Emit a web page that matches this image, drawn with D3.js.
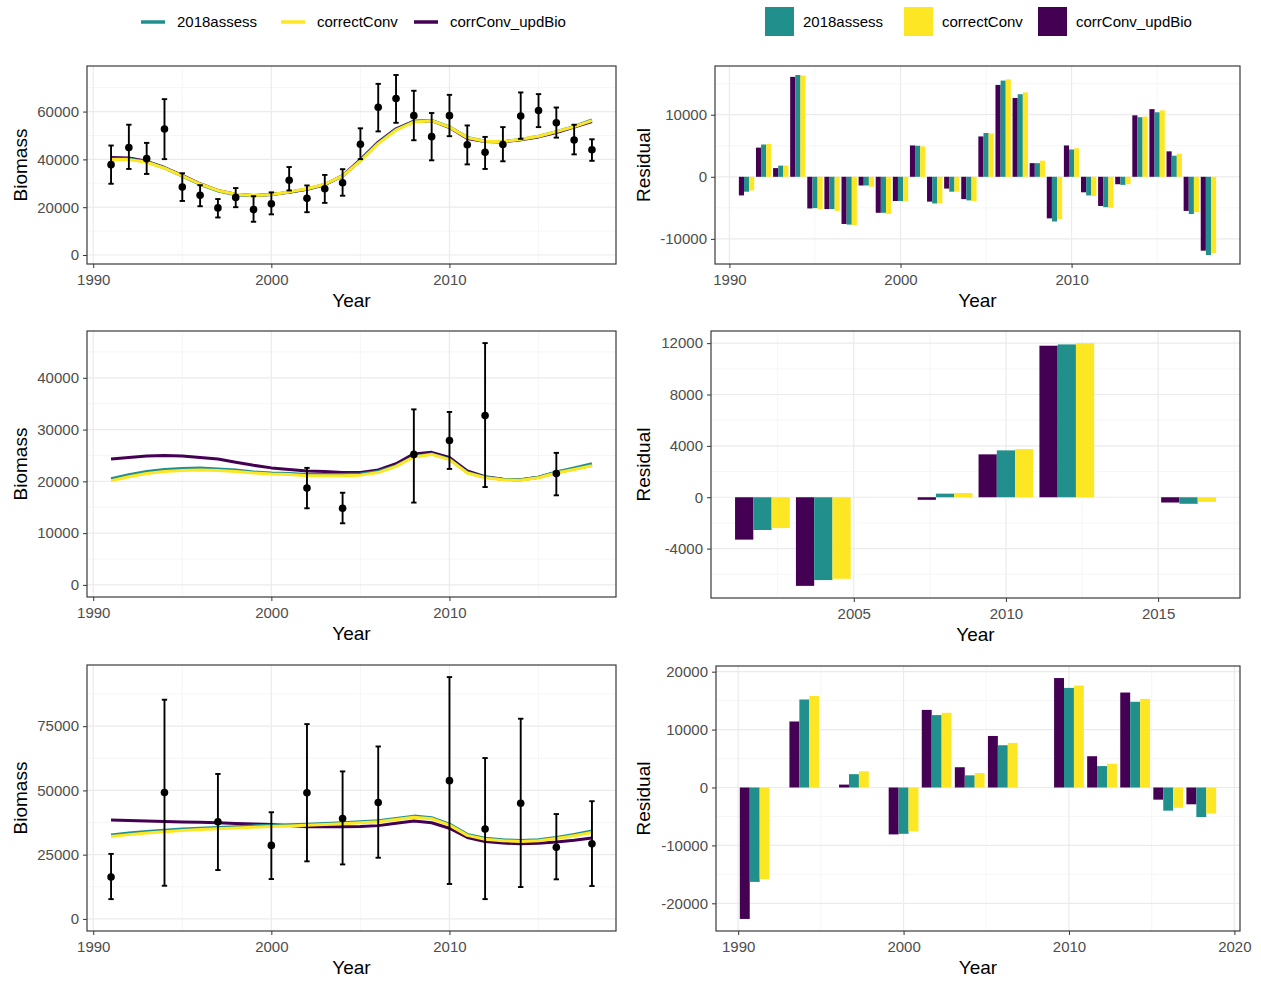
<!DOCTYPE html>
<html>
<head>
<meta charset="utf-8">
<script src="https://cdn.jsdelivr.net/npm/d3@7"></script>
<style>
  body { margin: 0; background: #fff; }
  svg text { font-family: "Liberation Sans", Arial, sans-serif; }
</style>
</head>
<body>
<svg id="chart" width="1261" height="981"></svg>
<script>
// ---- series ----
const seriesNames = ["2018assess", "correctConv", "corrConv_updBio"];
const seriesColors = ["#21908C", "#FDE725", "#440154"];
const barOrder = ["corrConv_updBio", "2018assess", "correctConv"];
const lineOrder = ["corrConv_updBio", "2018assess", "correctConv"];

// ---- survey A: annual index, 1991-2018 ----
const yearsA = [1991, 1992, 1993, 1994, 1995, 1996, 1997, 1998, 1999, 2000, 2001, 2002, 2003, 2004,
                2005, 2006, 2007, 2008, 2009, 2010, 2011, 2012, 2013, 2014, 2015, 2016, 2017, 2018];
const obsA = [37800, 45000, 40300, 52700, 28400, 25000, 19700, 24100, 19000, 21400, 31300, 23700, 27700, 30200,
              46300, 61800, 65500, 58300, 49500, 58300, 46100, 43000, 46200, 58100, 60400, 55300, 48100, 44000];
const loA = [29800, 36000, 33900, 40100, 22600, 20400, 15700, 20000, 13900, 17000, 27000, 17900, 21800, 24800,
             40100, 51700, 55300, 48000, 39600, 49700, 37900, 36000, 39200, 48600, 53500, 49100, 42100, 39400];
const hiA = [45800, 54500, 46900, 65200, 34200, 29200, 23400, 28000, 24600, 26200, 36800, 29100, 33500, 35900,
             53000, 71600, 75300, 68700, 59400, 67000, 54200, 49400, 53500, 68000, 67300, 61700, 54500, 48400];
const estA_2018assess = [40200, 40200, 39000, 36400, 33000, 29500, 26800, 25200, 24800, 25300, 26300, 27600, 29500, 33000,
                         39500, 46800, 52500, 55800, 56300, 53600, 49200, 47600, 47400, 48300, 49700, 51600, 53800, 56500];
const estA_correctConv = [40000, 39900, 38800, 36300, 33100, 29700, 27000, 25400, 24900, 25300, 26400, 27700, 29600, 33100,
                          39400, 46600, 52200, 55600, 56200, 53500, 49100, 47600, 47400, 48400, 49700, 51600, 53700, 56200];
const estA_corrConv_updBio = [40800, 40600, 39200, 36600, 33300, 29800, 27000, 25400, 24900, 25300, 26200, 27500, 29400, 33200,
                              39900, 47200, 52800, 56000, 56200, 53300, 48700, 47500, 47300, 48200, 49400, 51200, 53500, 55800];
const residA_2018assess = [-2400, 5200, 1800, 16400, -5050, -5200, -7700, -1400, -5800, -3900, 5000, -4300, -2400, -3800,
                           7050, 15500, 13300, 2200, -7200, 4400, -3000, -4900, -1300, 9600, 10400, 3400, -6000, -12600];
const residA_correctConv = [-2200, 5300, 1800, 16300, -5200, -5500, -7800, -1600, -6000, -3950, 4900, -4300, -2400, -3900,
                            7000, 15700, 13600, 2600, -6800, 4600, -3100, -5000, -1200, 9700, 10700, 3700, -5700, -12300];
const residA_corrConv_updBio = [-3000, 4700, 1400, 16100, -5100, -5200, -7600, -1400, -5800, -3900, 5050, -4000, -1900, -3600,
                                6500, 14800, 12700, 2200, -6700, 5050, -2500, -4700, -1200, 9900, 10900, 4100, -5500, -11900];

// ---- survey B: biennial index ----
const yearsB = yearsA;
const estB_2018assess = [20500, 21300, 21900, 22300, 22500, 22600, 22400, 22200, 21800, 21600, 21500, 21300, 21300, 21300,
                         21400, 21900, 23000, 24800, 25300, 24300, 21700, 20800, 20400, 20300, 20800, 21800, 22600, 23400];
const estB_correctConv = [20100, 20900, 21500, 21900, 22100, 22200, 22100, 21900, 21600, 21400, 21300, 21100, 21100, 21100,
                          21200, 21700, 22900, 24700, 25200, 24200, 21600, 20700, 20300, 20200, 20700, 21600, 22300, 23000];
const estB_corrConv_updBio = [24300, 24600, 24900, 25000, 24900, 24600, 24300, 23700, 23100, 22600, 22300, 22000, 21900, 21700,
                              21700, 22200, 23400, 25300, 25600, 24600, 22000, 20900, 20400, 20300, 20800, 21700, 22400, 23100];
const obsYearsB = [2002, 2004, 2008, 2010, 2012, 2016];
const obsB = [18700, 14800, 25200, 27900, 32700, 21500];
const loB = [14800, 11900, 15900, 22400, 18900, 17300];
const hiB = [22600, 17800, 33900, 33400, 46700, 25500];
const residB_2018assess = [-2550, -6450, 280, 3650, 11900, -510];
const residB_correctConv = [-2400, -6350, 330, 3750, 12000, -360];
const residB_corrConv_updBio = [-3300, -6900, -200, 3340, 11800, -410];

// ---- survey C: irregular index ----
const yearsC = yearsA;
const estC_2018assess = [32700, 33400, 34000, 34500, 35000, 35300, 35600, 35900, 36200, 36400, 36600, 36800, 37100, 37400,
                         37800, 38200, 39100, 40000, 39400, 36900, 32900, 31400, 30800, 30500, 30800, 31700, 32900, 34200];
const estC_correctConv = [32100, 32800, 33400, 33900, 34400, 34800, 35100, 35400, 35700, 36000, 36200, 36400, 36700, 37000,
                          37400, 37800, 38700, 39600, 39000, 36500, 32500, 31000, 30400, 30100, 30400, 31300, 32400, 33600];
const estC_corrConv_updBio = [38500, 38300, 38100, 37900, 37700, 37600, 37400, 37100, 36900, 36700, 36300, 35900, 35900, 35900,
                              36000, 36300, 37200, 38100, 37400, 35300, 31700, 30100, 29500, 29200, 29400, 29900, 30600, 31500];
const obsYearsC = [1991, 1994, 1997, 2000, 2002, 2004, 2006, 2010, 2012, 2014, 2016, 2018];
const obsC = [16300, 49200, 37800, 28600, 49100, 39100, 45300, 53800, 35000, 45000, 27900, 29200];
const loC = [7700, 12900, 19000, 15500, 22400, 21200, 23800, 13600, 7700, 12400, 15400, 12800];
const hiC = [25300, 85300, 56400, 41500, 75800, 57400, 67100, 94100, 62600, 77900, 40800, 45800];
const residC_2018assess = [-16300, 15200, 2300, -8000, 12500, 2100, 7300, 17200, 3700, 14800, -4000, -5100];
const residC_correctConv = [-15800, 15800, 2800, -7600, 12900, 2500, 7700, 17600, 4100, 15300, -3500, -4500];
const residC_corrConv_updBio = [-22700, 11400, 500, -8100, 13400, 3500, 8900, 18900, 5400, 16400, -2100, -2900];

// ---- axis breaks ----
const fitXTicks = [1990, 2000, 2010];
const fitXMinor = [1995, 2005, 2015];
const yTicksA = [0, 20000, 40000, 60000];
const yMinorA = [10000, 30000, 50000, 70000];
const yTicksB = [0, 10000, 20000, 30000, 40000];
const yMinorB = [5000, 15000, 25000, 35000, 45000];
const yTicksC = [0, 25000, 50000, 75000];
const yMinorC = [12500, 37500, 62500, 87500];
const resXTicksA = [1990, 2000, 2010];
const resXMinorA = [1995, 2005, 2015];
const resYTicksA = [-10000, 0, 10000];
const resYMinorA = [-5000, 5000, 15000];
const resXTicksB = [2005, 2010, 2015];
const resXMinorB = [2002.5, 2007.5, 2012.5, 2017.5];
const resYTicksB = [-4000, 0, 4000, 8000, 12000];
const resYMinorB = [-6000, -2000, 2000, 6000, 10000];
const resXTicksC = [1990, 2000, 2010, 2020];
const resXMinorC = [1995, 2005, 2015];
const resYTicksC = [-20000, -10000, 0, 10000, 20000];
const resYMinorC = [-15000, -5000, 5000, 15000];

const color = d3.scaleOrdinal().domain(seriesNames).range(seriesColors);
const svg = d3.select("#chart");

function frame(box, x, y, xTicks, xMinor, yTicks, yMinor, yTitle) {
  const g = svg.append("g");
  const [lo, hi] = y.domain();
  const [xl, xh] = x.domain();
  g.append("rect").attr("x", box.x0).attr("y", box.y0)
    .attr("width", box.x1 - box.x0).attr("height", box.y1 - box.y0).attr("fill", "#fff");
  // minor grid
  g.selectAll(".gy2").data(yMinor.filter(v => v > lo && v < hi)).join("line")
    .attr("x1", box.x0).attr("x2", box.x1).attr("y1", d => y(d)).attr("y2", d => y(d))
    .attr("stroke", "#F2F2F2").attr("stroke-width", 0.7);
  g.selectAll(".gx2").data(xMinor.filter(v => v > xl && v < xh)).join("line")
    .attr("y1", box.y0).attr("y2", box.y1).attr("x1", d => x(d)).attr("x2", d => x(d))
    .attr("stroke", "#F2F2F2").attr("stroke-width", 0.7);
  // major grid
  g.selectAll(".gy").data(yTicks).join("line")
    .attr("x1", box.x0).attr("x2", box.x1).attr("y1", d => y(d)).attr("y2", d => y(d))
    .attr("stroke", "#EBEBEB").attr("stroke-width", 1.2);
  g.selectAll(".gx").data(xTicks.filter(v => v > xl && v < xh)).join("line")
    .attr("y1", box.y0).attr("y2", box.y1).attr("x1", d => x(d)).attr("x2", d => x(d))
    .attr("stroke", "#EBEBEB").attr("stroke-width", 1.2);

  // axes
  const ax = svg.append("g").attr("transform", `translate(0,${box.y1})`)
    .call(d3.axisBottom(x).tickValues(xTicks).tickSize(4).tickPadding(5).tickFormat(d => String(d)));
  const ay = svg.append("g").attr("transform", `translate(${box.x0},0)`)
    .call(d3.axisLeft(y).tickValues(yTicks).tickSize(4).tickPadding(4).tickFormat(d => String(d)));
  [ax, ay].forEach(a => {
    a.select(".domain").remove();
    a.selectAll(".tick line").attr("stroke", "#333").attr("stroke-width", 1);
    a.selectAll(".tick text").attr("fill", "#4D4D4D").style("font-size", "15px")
      .style("font-family", "'Liberation Sans', Arial, sans-serif");
  });
  ax.selectAll(".tick text").attr("dy", "0.8em");

  // titles
  svg.append("text").attr("x", (box.x0 + box.x1) / 2).attr("y", box.y1 + 43)
    .attr("text-anchor", "middle").style("font-size", "19px").attr("fill", "#000").text("Year");
  svg.append("text")
    .attr("transform", `translate(${box.titleX},${(box.y0 + box.y1) / 2}) rotate(-90)`)
    .attr("text-anchor", "middle").style("font-size", "19px").attr("fill", "#000").text(yTitle);
  return g;
}

function border(box) {
  svg.append("rect").attr("x", box.x0).attr("y", box.y0)
    .attr("width", box.x1 - box.x0).attr("height", box.y1 - box.y0)
    .attr("fill", "none").attr("stroke", "#3a3a3a").attr("stroke-width", 1.2);
}

function fitPanel(box, years, est, obsYears, obs, lo, hi, yTicks, yMinor) {
  const x = d3.scaleLinear()
    .domain([d3.min(years) - 0.05 * (d3.max(years) - d3.min(years)),
             d3.max(years) + 0.05 * (d3.max(years) - d3.min(years))])
    .range([box.x0, box.x1]);
  const top = d3.max(hi);
  const y = d3.scaleLinear().domain([-0.05 * top, 1.05 * top]).range([box.y1, box.y0]);
  const g = frame(box, x, y, fitXTicks, fitXMinor, yTicks, yMinor, "Biomass");

  const line = d3.line().x((d, i) => x(years[i])).y(d => y(d));
  lineOrder.forEach(s => {
    g.append("path").datum(est[s]).attr("d", line).attr("fill", "none")
      .attr("stroke", color(s)).attr("stroke-width", 3)
      .attr("stroke-linejoin", "round").attr("stroke-linecap", "butt");
  });

  const pts = obsYears.map((yr, i) => ({ yr, v: obs[i], lo: lo[i], hi: hi[i] }));
  const cap = 0.15;
  const eb = g.append("g").attr("stroke", "#000").attr("stroke-width", 1.9);
  eb.selectAll(".v").data(pts).join("line")
    .attr("x1", d => x(d.yr)).attr("x2", d => x(d.yr)).attr("y1", d => y(d.lo)).attr("y2", d => y(d.hi));
  eb.selectAll(".t").data(pts).join("line")
    .attr("x1", d => x(d.yr - cap)).attr("x2", d => x(d.yr + cap)).attr("y1", d => y(d.hi)).attr("y2", d => y(d.hi));
  eb.selectAll(".b").data(pts).join("line")
    .attr("x1", d => x(d.yr - cap)).attr("x2", d => x(d.yr + cap)).attr("y1", d => y(d.lo)).attr("y2", d => y(d.lo));
  g.selectAll("circle").data(pts).join("circle")
    .attr("cx", d => x(d.yr)).attr("cy", d => y(d.v)).attr("r", 3.8).attr("fill", "#000");
  border(box);
}

function residPanel(box, years, resid, xTicks, xMinor, yTicks, yMinor) {
  const gaps = d3.pairs(years).map(([a, b]) => b - a);
  const w = 0.9 * d3.min(gaps);
  const xl = d3.min(years) - w / 2, xh = d3.max(years) + w / 2;
  const x = d3.scaleLinear().domain([xl - 0.05 * (xh - xl), xh + 0.05 * (xh - xl)]).range([box.x0, box.x1]);
  const all = barOrder.flatMap(s => resid[s]).concat([0]);
  const rl = d3.min(all), rh = d3.max(all);
  const y = d3.scaleLinear().domain([rl - 0.05 * (rh - rl), rh + 0.05 * (rh - rl)]).range([box.y1, box.y0]);
  const g = frame(box, x, y, xTicks, xMinor, yTicks, yMinor, "Residual");

  const dodge = d3.scaleBand().domain(barOrder).range([-w / 2, w / 2]);
  const bars = [];
  years.forEach((yr, i) => barOrder.forEach(s => bars.push({ yr, s, v: resid[s][i] })));
  g.selectAll(".bar").data(bars).join("rect")
    .attr("x", d => x(d.yr + dodge(d.s)))
    .attr("width", d => x(d.yr + dodge(d.s) + dodge.bandwidth()) - x(d.yr + dodge(d.s)))
    .attr("y", d => y(Math.max(0, d.v)))
    .attr("height", d => Math.abs(y(d.v) - y(0)))
    .attr("fill", d => color(d.s));
  border(box);
}

// ---- layout ----
const L = 87, R = 616;
fitPanel({ x0: L, x1: R, y0: 66, y1: 264, titleX: 27 }, yearsA,
  { "2018assess": estA_2018assess, "correctConv": estA_correctConv, "corrConv_updBio": estA_corrConv_updBio },
  yearsA, obsA, loA, hiA, yTicksA, yMinorA);
fitPanel({ x0: L, x1: R, y0: 331, y1: 597, titleX: 27 }, yearsB,
  { "2018assess": estB_2018assess, "correctConv": estB_correctConv, "corrConv_updBio": estB_corrConv_updBio },
  obsYearsB, obsB, loB, hiB, yTicksB, yMinorB);
fitPanel({ x0: L, x1: R, y0: 665, y1: 931, titleX: 27 }, yearsC,
  { "2018assess": estC_2018assess, "correctConv": estC_correctConv, "corrConv_updBio": estC_corrConv_updBio },
  obsYearsC, obsC, loC, hiC, yTicksC, yMinorC);

residPanel({ x0: 715, x1: 1240, y0: 66, y1: 264, titleX: 650 }, yearsA,
  { "2018assess": residA_2018assess, "correctConv": residA_correctConv, "corrConv_updBio": residA_corrConv_updBio },
  resXTicksA, resXMinorA, resYTicksA, resYMinorA);
residPanel({ x0: 711, x1: 1240, y0: 331, y1: 598, titleX: 650 }, obsYearsB,
  { "2018assess": residB_2018assess, "correctConv": residB_correctConv, "corrConv_updBio": residB_corrConv_updBio },
  resXTicksB, resXMinorB, resYTicksB, resYMinorB);
residPanel({ x0: 716, x1: 1240, y0: 666, y1: 931, titleX: 650 }, obsYearsC,
  { "2018assess": residC_2018assess, "correctConv": residC_correctConv, "corrConv_updBio": residC_corrConv_updBio },
  resXTicksC, resXMinorC, resYTicksC, resYMinorC);

// ---- legends ----
const lineLegX = [141, 281, 414];
const lgL = svg.append("g");
seriesNames.forEach((s, i) => {
  lgL.append("line").attr("x1", lineLegX[i]).attr("x2", lineLegX[i] + 24).attr("y1", 22).attr("y2", 22)
    .attr("stroke", color(s)).attr("stroke-width", 3.5);
  lgL.append("text").attr("x", lineLegX[i] + 36).attr("y", 27).style("font-size", "15px").attr("fill", "#000").text(s);
});
const boxLegX = [765, 904, 1038];
const lgR = svg.append("g");
seriesNames.forEach((s, i) => {
  lgR.append("rect").attr("x", boxLegX[i]).attr("y", 7).attr("width", 29).attr("height", 29).attr("fill", color(s));
  lgR.append("text").attr("x", boxLegX[i] + 38).attr("y", 27).style("font-size", "15px").attr("fill", "#000").text(s);
});
</script>
</body>
</html>
